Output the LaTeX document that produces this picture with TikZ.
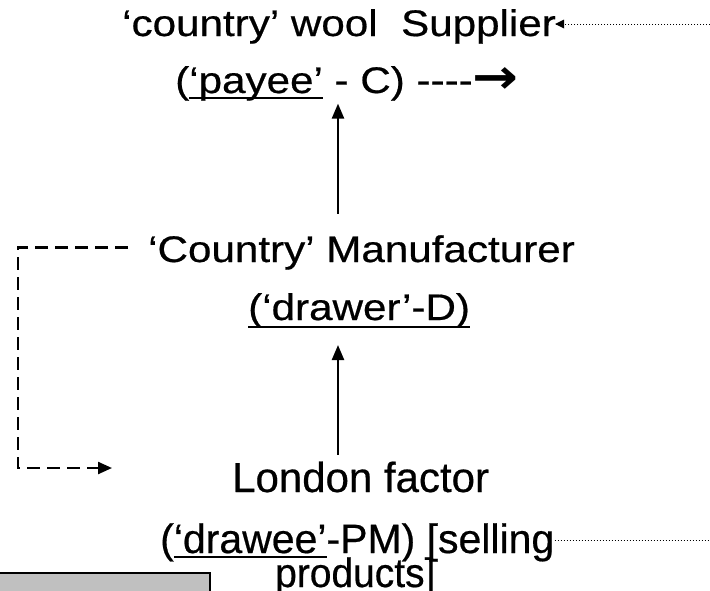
\documentclass[tikz,border=0pt]{standalone}
\usepackage{graphicx}
\usepackage{fontspec}
\setmainfont{Liberation Sans}[FakeBold=0.5]
\newfontfamily\arrowfont{DejaVu Sans}
\usetikzlibrary{arrows.meta,calc}

% underline #2 with a 1.6pt rule whose centre lies #1 below the baseline
\newcommand\ulin[2]{\begingroup\setbox0\hbox{#2}\rlap{\rule[-\dimexpr#1+0.8pt\relax]{\wd0}{1.6pt}}\box0\endgroup}
% the upper labels are set a little wider than their natural width
\newcommand\widetext[1]{\scalebox{1.14}[1]{#1}}
\definecolor{boxgray}{RGB}{192,192,192}

\begin{document}
\begin{tikzpicture}[x=1pt,y=-1pt,
  lbl/.style={inner sep=0pt,anchor=base west},
  upper/.style={lbl,font=\fontsize{37}{37}\selectfont},
  lower/.style={lbl,font=\fontsize{41}{41}\selectfont},
  solidarrow/.style={line width=2.3pt,-{Triangle[length=15pt,width=12pt]}},
  dasharrow/.style={line width=2.3pt,dash pattern=on 13pt off 7pt,-{Triangle[length=14pt,width=12pt]}},
  dotarrow/.style={line width=1pt,dash pattern=on 1pt off 2pt}
]
\useasboundingbox (0,0) rectangle (710,590);

% labels
\node[upper] (sup) at (122,36) {\widetext{‘country’ wool\ \ Supplier}};
\node[upper] (payee) at (175,93) {\widetext{(\ulin{5pt}{‘payee’} - C) -{}-{}-{}-{\arrowfont\bfseries\scalebox{1.3}{→}}}};
\node[upper] (mfr) at (148,262) {\widetext{‘Country’ Manufacturer}};
\node[upper] (drawer) at (248,320) {\widetext{\ulin{7pt}{(‘drawer’-D)}}};
\node[lower,font=\fontsize{42}{42}\selectfont] (london) at (232,492) {London factor};
\node[lower] (drawee) at (160,553) {(\ulin{4pt}{‘drawee’}-PM) [selling};
\node[lower] (prod) at (275,587) {\scalebox{0.95}[1]{products]}};

% grey box at the lower left
\draw[line width=2pt,fill=boxgray] (-5,573) rectangle (210,600);

% helper points
\coordinate (axis) at (338,0);
\coordinate (rtop) at (710,24);
\coordinate (rbot) at (710,540);
\coordinate (dcorner) at (18,468);
\coordinate (dtip) at (112,468);

% vertical arrows
\draw[solidarrow,shorten <=6.4pt,shorten >=17pt] (london.north -| axis) -- (drawer.south -| axis);
\draw[solidarrow,shorten <=21.5pt,shorten >=2.7pt] (mfr.north -| axis) -- (payee.south -| axis);

% dashed loop from the manufacturer to the factor
\draw[dasharrow] ([xshift=-20pt,yshift=5pt]mfr.west) -| (dcorner) -- (dtip);

% dotted leaders to the right edge
\draw[dotarrow] (rtop) -- (rtop -| sup.east);
\fill ([xshift=-1pt]rtop -| sup.east) -- ++(9,-4.5) -- ++(0,9) -- cycle;
\draw[dotarrow] (rbot -| drawee.east) -- (rbot);
\end{tikzpicture}
\end{document}
